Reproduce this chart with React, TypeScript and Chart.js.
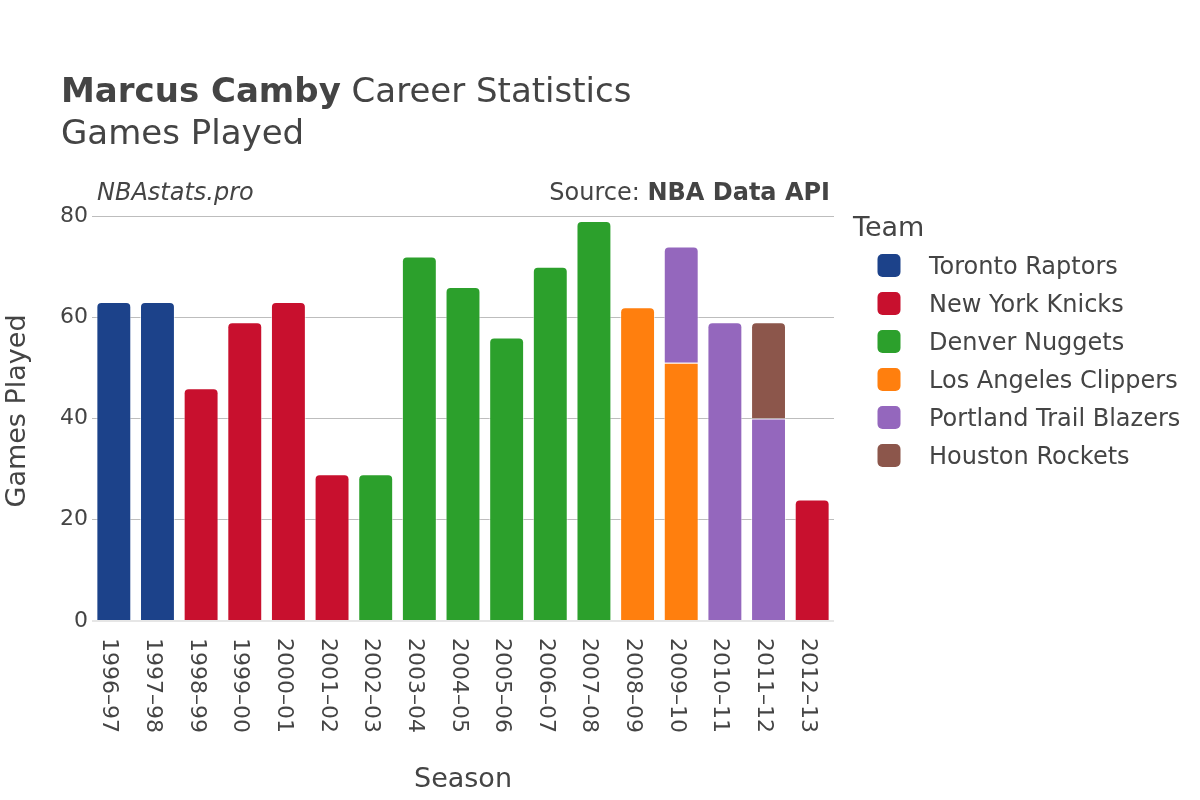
import React, { useEffect, useRef } from 'react';
import { Chart, registerables } from 'chart.js';

Chart.register(...registerables);

const seasons = [
  '1996–97', '1997–98', '1998–99', '1999–00', '2000–01', '2001–02', '2002–03', '2003–04', '2004–05',
  '2005–06', '2006–07', '2007–08', '2008–09', '2009–10', '2010–11', '2011–12', '2012–13',
];

const teams = [
  'Toronto Raptors',
  'New York Knicks',
  'Denver Nuggets',
  'Los Angeles Clippers',
  'Portland Trail Blazers',
  'Houston Rockets',
];

const teamColors = ['#1c428a', '#c8102e', '#2ca02c', '#ff7f0e', '#9467bd', '#8c564b'];

const torontoGames = [63, 63, null, null, null, null, null, null, null, null, null, null, null, null, null, null, null];
const knicksGames = [null, null, 46, 59, 63, 29, null, null, null, null, null, null, null, null, null, null, 24];
const nuggetsGames = [null, null, null, null, null, null, 29, 72, 66, 56, 70, 79, null, null, null, null, null];
const clippersGames = [null, null, null, null, null, null, null, null, null, null, null, null, 62, 51, null, null, null];
const blazersGames = [null, null, null, null, null, null, null, null, null, null, null, null, null, 23, 59, 40, null];
const rocketsGames = [null, null, null, null, null, null, null, null, null, null, null, null, null, null, null, 19, null];

const teamSeries = [torontoGames, knicksGames, nuggetsGames, clippersGames, blazersGames, rocketsGames];

const yTickValues = [0, 20, 40, 60, 80];

const FONT = '"DejaVu Sans", sans-serif';
const TEXT = '#444444';

const overlayPlugin = {
  id: 'overlay',
  afterDraw(chart: any) {
    const ctx = chart.ctx;
    const area = chart.chartArea;
    const xScale = chart.scales.x;
    ctx.save();
    ctx.fillStyle = TEXT;
    ctx.textBaseline = 'alphabetic';

    // Title
    ctx.textAlign = 'left';
    ctx.font = `bold 34px ${FONT}`;
    const boldPart = 'Marcus Camby';
    ctx.fillText(boldPart, 61, 102);
    const w = ctx.measureText(boldPart).width;
    ctx.font = `34px ${FONT}`;
    ctx.fillText(' Career Statistics', 61 + w, 102);
    ctx.fillText('Games Played', 61, 144);

    // Watermark and source
    ctx.font = `italic 24px ${FONT}`;
    ctx.fillText('NBAstats.pro', 97, 200);
    ctx.textAlign = 'right';
    ctx.font = `bold 24px ${FONT}`;
    const src = 'NBA Data API';
    ctx.fillText(src, area.right - 4, 200);
    const sw = ctx.measureText(src).width;
    ctx.font = `24px ${FONT}`;
    ctx.fillText('Source: ', area.right - 4 - sw, 200);

    // X tick labels (rotated, reading top to bottom)
    ctx.font = `22px ${FONT}`;
    ctx.textAlign = 'left';
    chart.data.labels.forEach((lab: string, i: number) => {
      const x = xScale.getPixelForValue(i);
      ctx.save();
      ctx.translate(x - 10.5, area.bottom + 17);
      ctx.rotate(Math.PI / 2);
      ctx.fillText(lab, 0, 0);
      ctx.restore();
    });

    // Axis titles
    ctx.font = `27px ${FONT}`;
    ctx.textAlign = 'center';
    ctx.fillText('Season', (area.left + area.right) / 2, 787);
    ctx.save();
    ctx.translate(25, 411);
    ctx.rotate(-Math.PI / 2);
    ctx.fillText('Games Played', 0, 0);
    ctx.restore();

    // Legend
    ctx.textAlign = 'left';
    ctx.font = `27px ${FONT}`;
    ctx.fillText('Team', 853, 236);
    ctx.font = `24px ${FONT}`;
    chart.data.datasets.forEach((ds: any, i: number) => {
      const cy = 265.5 + 38 * i;
      ctx.fillStyle = ds.backgroundColor;
      ctx.beginPath();
      if ((ctx as any).roundRect) {
        (ctx as any).roundRect(877.5, cy - 11.5, 23, 23, 5);
      } else {
        ctx.rect(877.5, cy - 11.5, 23, 23);
      }
      ctx.fill();
      ctx.fillStyle = TEXT;
      ctx.fillText(ds.label, 929, cy + 8.7);
    });

    ctx.restore();
  },
};

export default function App() {
  const canvasRef = useRef<HTMLCanvasElement | null>(null);

  useEffect(() => {
    const canvas = canvasRef.current;
    if (!canvas) return;
    const datasets = teams.map((team, i) => ({
      label: team,
      data: teamSeries[i],
      backgroundColor: teamColors[i],
      borderColor: 'rgba(255,255,255,0.55)',
      borderWidth: 1,
      borderSkipped: 'start' as const,
      borderRadius: (c: any) => {
        const idx = c.dataIndex;
        const all = c.chart.data.datasets;
        for (let k = c.datasetIndex + 1; k < all.length; k++) {
          if (all[k].data[idx] != null) return 0;
        }
        return 5;
      },
      categoryPercentage: 1,
      barPercentage: 0.8,
    }));

    const chart = new Chart(canvas, {
      type: 'bar',
      data: { labels: seasons, datasets },
      plugins: [overlayPlugin],
      options: {
        responsive: false,
        animation: false,
        maintainAspectRatio: false,
        layout: { padding: { left: 0, top: 216, right: 366, bottom: 0 } },
        plugins: {
          legend: { display: false },
          title: { display: false },
          tooltip: { enabled: false },
        },
        scales: {
          x: {
            type: 'category',
            stacked: true,
            offset: true,
            grid: { display: false },
            border: { display: false },
            ticks: { display: false },
            afterFit: (scale: any) => {
              scale.height = 179;
            },
          },
          y: {
            stacked: true,
            min: 0,
            max: 80,
            border: { display: false },
            afterBuildTicks: (scale: any) => {
              scale.ticks = yTickValues.map((v) => ({ value: v }));
            },
            afterFit: (scale: any) => {
              scale.width = 92;
            },
            grid: {
              drawTicks: false,
              color: (c: any) => (c.tick && c.tick.value === 0 ? '#e6e6e6' : '#bdbdbd'),
              lineWidth: (c: any) => (c.tick && c.tick.value === 0 ? 2 : 1),
            },
            ticks: {
              padding: 4,
              color: TEXT,
              font: { family: FONT, size: 22 },
            },
          },
        },
      },
    });

    return () => {
      chart.destroy();
    };
  }, []);

  return (
    <div style={{ position: 'absolute', left: 0, top: 0, width: 1200, height: 800, background: '#fff' }}>
      <canvas ref={canvasRef} width={1200} height={800} style={{ width: 1200, height: 800, display: 'block' }} />
    </div>
  );
}
